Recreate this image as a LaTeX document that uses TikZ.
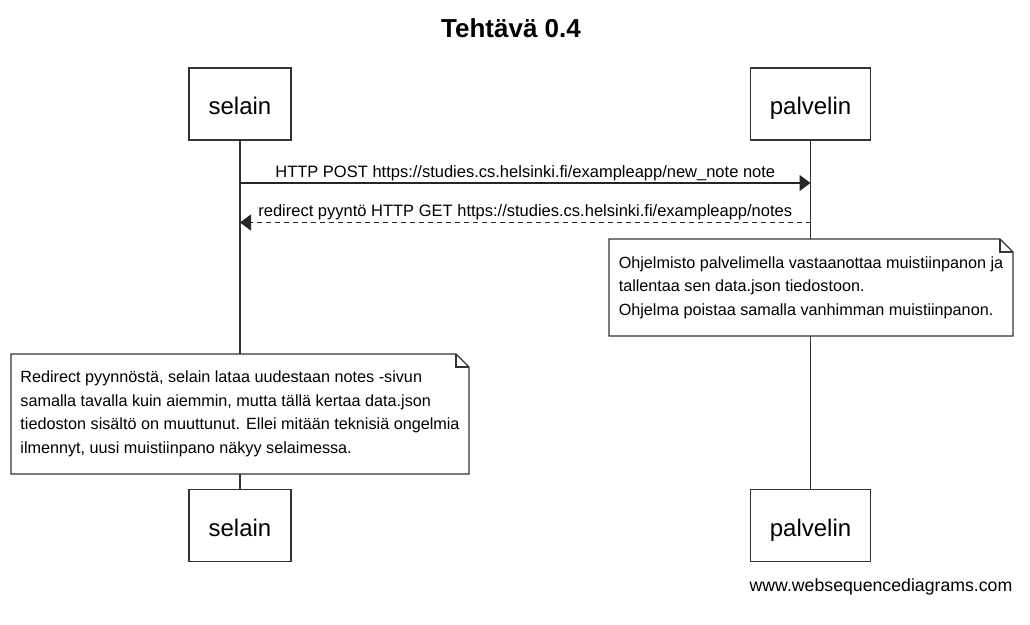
\documentclass[tikz,border=0pt]{standalone}
\usepackage{fontspec}
\setmainfont{Liberation Sans}
\usetikzlibrary{arrows.meta,calc}
\begin{document}
\begin{tikzpicture}[x=1pt,y=-1pt,
  every node/.style={inner sep=0pt,outer sep=0pt},
  actor/.style={draw=black!80,line width=1.3pt,fill=white,minimum height=72pt,inner xsep=19.5pt,
    text height=21pt,text depth=0pt,font=\fontsize{24}{28}\selectfont},
  life/.style={draw=black!80,line width=1.2pt},
  msg/.style={draw=black!85,line width=1.3pt,-{Triangle[length=11pt,width=16pt]}},
  reply/.style={msg,dash pattern=on 5pt off 4pt},
  msglabel/.style={font=\fontsize{16.5}{19}\selectfont,above=2.5pt,inner sep=0pt},
  notebox/.style={fill=white,align=left,font=\fontsize{16.2}{23.5}\selectfont},
  noteline/.style={draw=black!80,line width=1.1pt,line join=miter}
]
\useasboundingbox (0,0) rectangle (1030,624);

% title
\node[font=\fontsize{26}{30}\selectfont\bfseries] (title) at (511,28.5) {Tehtävä 0.4};

% participants
\node[actor] (selTop) at (240,104) {selain};
\node[actor] (palTop) at (810.5,104) {palvelin};
\node[actor] (selBot) at (240,525.5) {selain};
\node[actor] (palBot) at (810.5,525.5) {palvelin};

% lifelines
\draw[life] (selTop.south) -- (selBot.north);
\draw[life] (palTop.south) -- (palBot.north);

% messages
\coordinate (y1) at (0,183);
\coordinate (y2) at (0,222.5);
\draw[msg] (selTop.south |- y1) -- (palTop.south |- y1)
  node[msglabel,midway] (m1) {HTTP POST https://studies.cs.helsinki.fi/exampleapp/new\_note note};
\draw[reply] (palTop.south |- y2) -- (selTop.south |- y2)
  node[msglabel,midway] (m2) {redirect pyyntö HTTP GET https://studies.cs.helsinki.fi/exampleapp/notes};

% note 1
\node[notebox,minimum width=404pt,minimum height=97pt] (note1) at (811,287.5)
  {Ohjelmisto palvelimella vastaanottaa muistiinpanon ja\\
   tallentaa sen data.json tiedostoon.\\
   Ohjelma poistaa samalla vanhimman muistiinpanon.};
\draw[noteline] (note1.north west) -- ([xshift=-13pt]note1.north east)
  -- ([yshift=-13pt]note1.north east) -- (note1.south east) -- (note1.south west) -- cycle;
\draw[noteline] ([xshift=-13pt]note1.north east) -- ([xshift=-13pt,yshift=-13pt]note1.north east)
  -- ([yshift=-13pt]note1.north east);

% note 2
\node[notebox,minimum width=458pt,minimum height=120pt] (note2) at (240,414)
  {Redirect pyynnöstä, selain lataa uudestaan notes -sivun\\
   samalla tavalla kuin aiemmin, mutta tällä kertaa data.json\\
   tiedoston sisältö on muuttunut. Ellei mitään teknisiä ongelmia\\
   ilmennyt, uusi muistiinpano näkyy selaimessa.};
\draw[noteline] (note2.north west) -- ([xshift=-13pt]note2.north east)
  -- ([yshift=-13pt]note2.north east) -- (note2.south east) -- (note2.south west) -- cycle;
\draw[noteline] ([xshift=-13pt]note2.north east) -- ([xshift=-13pt,yshift=-13pt]note2.north east)
  -- ([yshift=-13pt]note2.north east);

% footer
\node[font=\fontsize{17.7}{20}\selectfont,anchor=base] (footer) at (881,591) {www.websequencediagrams.com};
\end{tikzpicture}
\end{document}
